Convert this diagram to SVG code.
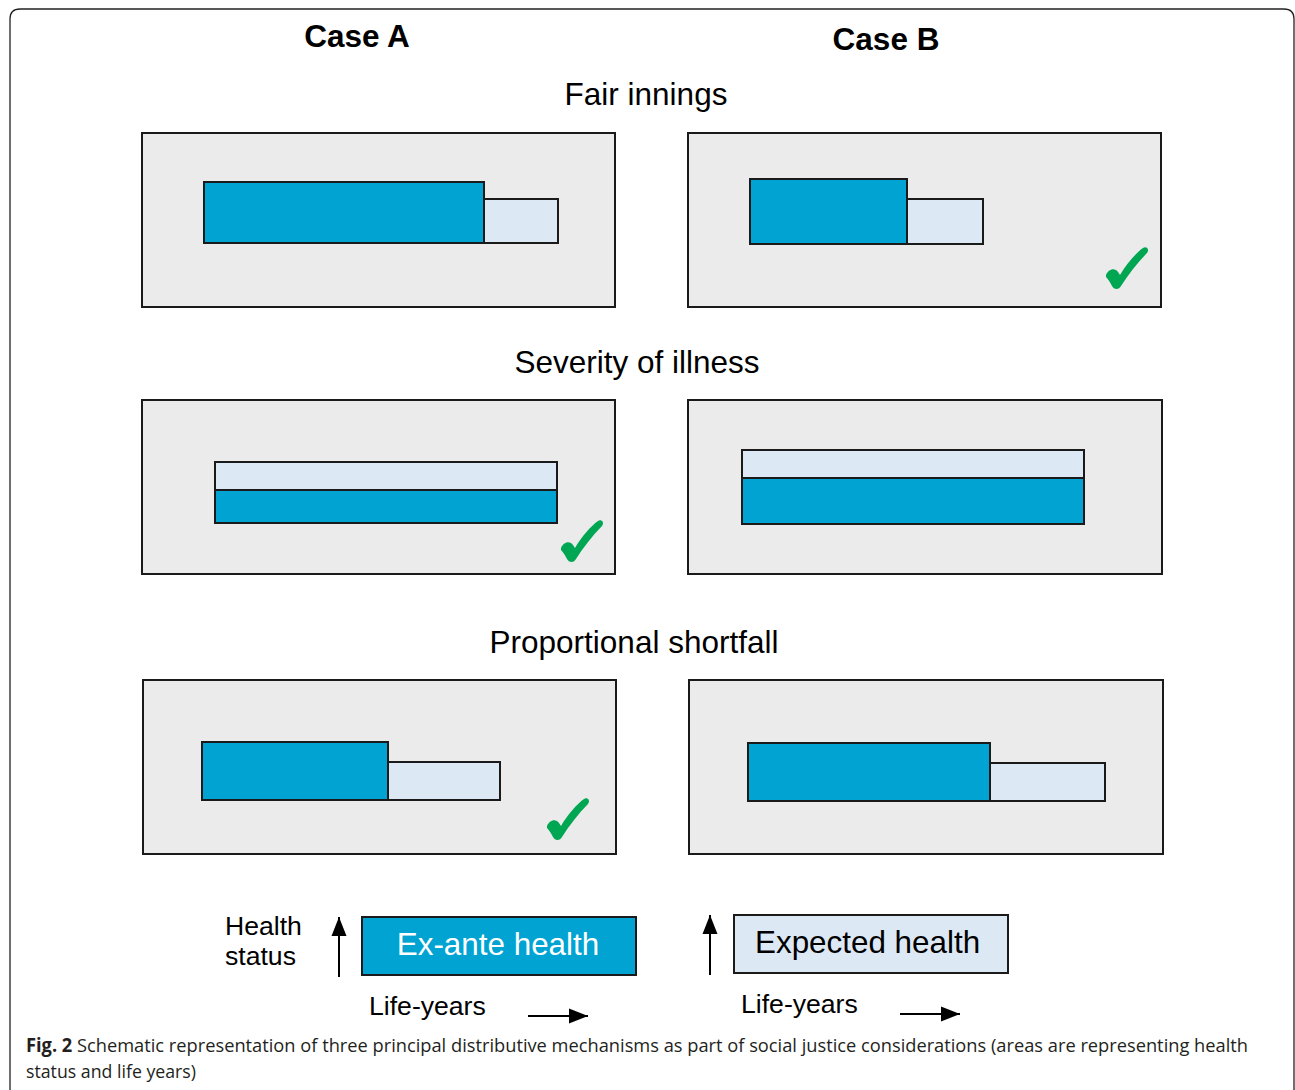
<svg xmlns="http://www.w3.org/2000/svg" xmlns:xlink="http://www.w3.org/1999/xlink" width="1295" height="1090" viewBox="0 0 1295 1090">
<style>
.panel{fill:#ebebeb;stroke:#1a1a1a;stroke-width:2}
.exante{fill:#00a3d1;stroke:#1a1a1a;stroke-width:2}
.expected{fill:#dce8f4;stroke:#1a1a1a;stroke-width:2}
.head{font-family:"Liberation Sans",Arial,sans-serif;font-weight:bold;font-size:31.5px;fill:#000}
.title{font-family:"Liberation Sans",Arial,sans-serif;font-size:31.5px;fill:#000}
.leg{font-family:"Liberation Sans",Arial,sans-serif;font-size:26.6px;fill:#000}
.cap{font-family:"Open Sans","Noto Sans",sans-serif;font-size:19px;fill:#231f20}
.axis{stroke:#000;stroke-width:2;fill:none}
.check{fill:#00a651}
</style>
<defs>
<path id="tick" d="M0,28 C2,22 9,20 12,25 L14,28 C21,16 30,6 37,1 C40,-1 44,2 41,6 C31,16 22,28 15,39 C13,43 8,43 6,39 C4,35 2,32 0,30 Z"/>
<marker id="ah" markerWidth="19" markerHeight="16" refX="19" refY="8" orient="auto" markerUnits="userSpaceOnUse" viewBox="0 0 19 16">
<path d="M0,0.5 L19,8 L0,15.5 Z" fill="#000"/>
</marker>
</defs>
<rect width="1295" height="1090" fill="#fff"/>
<path d="M10,1095 L10,19 Q10,9 20,9 L1284,9 Q1294,9 1294,19 L1294,1095" fill="none" stroke="#222" stroke-width="1.3"/>

<g id="headers">
<text class="head" x="357" y="47" text-anchor="middle">Case A</text>
<text class="head" x="886" y="50" text-anchor="middle">Case B</text>
</g>

<g id="fair-innings">
<text class="title" x="646" y="105" text-anchor="middle">Fair innings</text>
<g id="fi-a">
<rect class="panel" x="142" y="133" width="473" height="174"/>
<rect class="exante" x="204" y="182" width="280" height="61"/>
<rect class="expected" x="484" y="199" width="74" height="44"/>
</g>
<g id="fi-b">
<rect class="panel" x="688" y="133" width="473" height="174"/>
<rect class="exante" x="750" y="179" width="157" height="65"/>
<rect class="expected" x="907" y="199" width="76" height="45"/>
<use xlink:href="#tick" class="check" x="1106" y="247"/>
</g>
</g>

<g id="severity">
<text class="title" x="637" y="373" text-anchor="middle">Severity of illness</text>
<g id="sv-a">
<rect class="panel" x="142" y="400" width="473" height="174"/>
<rect class="expected" x="215" y="462" width="342" height="28"/>
<rect class="exante" x="215" y="490" width="342" height="33"/>
<use xlink:href="#tick" class="check" x="561" y="520"/>
</g>
<g id="sv-b">
<rect class="panel" x="688" y="400" width="474" height="174"/>
<rect class="expected" x="742" y="450" width="342" height="28"/>
<rect class="exante" x="742" y="478" width="342" height="46"/>
</g>
</g>

<g id="proportional">
<text class="title" x="634" y="653" text-anchor="middle">Proportional shortfall</text>
<g id="ps-a">
<rect class="panel" x="143" y="680" width="473" height="174"/>
<rect class="exante" x="202" y="742" width="186" height="58"/>
<rect class="expected" x="388" y="762" width="112" height="38"/>
<use xlink:href="#tick" class="check" x="547" y="798"/>
</g>
<g id="ps-b">
<rect class="panel" x="689" y="680" width="474" height="174"/>
<rect class="exante" x="748" y="743" width="242" height="58"/>
<rect class="expected" x="990" y="763" width="115" height="38"/>
</g>
</g>

<g id="legend-exante">
<text class="leg" x="225" y="935">Health</text>
<text class="leg" x="225" y="965">status</text>
<rect class="exante" x="362" y="917" width="274" height="58"/>
<text x="498" y="955" text-anchor="middle" font-family="Liberation Sans, Arial, sans-serif" font-size="31.4" fill="#fff">Ex-ante health</text>
<text class="leg" x="369" y="1015">Life-years</text>
</g>
<g id="legend-expected">
<rect class="expected" x="734" y="915" width="274" height="58"/>
<text x="755" y="953" font-family="Liberation Sans, Arial, sans-serif" font-size="31.4" fill="#000">Expected health</text>
<text class="leg" x="741" y="1013">Life-years</text>
</g>

<g id="connectors">
<line class="axis" x1="339" y1="977" x2="339" y2="917" marker-end="url(#ah)"/>
<line class="axis" x1="528" y1="1016" x2="588" y2="1016" marker-end="url(#ah)"/>
<line class="axis" x1="710" y1="975" x2="710" y2="915" marker-end="url(#ah)"/>
<line class="axis" x1="900" y1="1014" x2="960" y2="1014" marker-end="url(#ah)"/>
</g>

<g id="caption">
<text class="cap" x="26" y="1052" textLength="1222" lengthAdjust="spacingAndGlyphs"><tspan font-weight="bold">Fig. 2</tspan>  Schematic representation of three principal distributive mechanisms as part of social justice considerations (areas are representing health</text>
<text class="cap" x="26" y="1078" textLength="170" lengthAdjust="spacingAndGlyphs">status and life years)</text>
</g>
</svg>
